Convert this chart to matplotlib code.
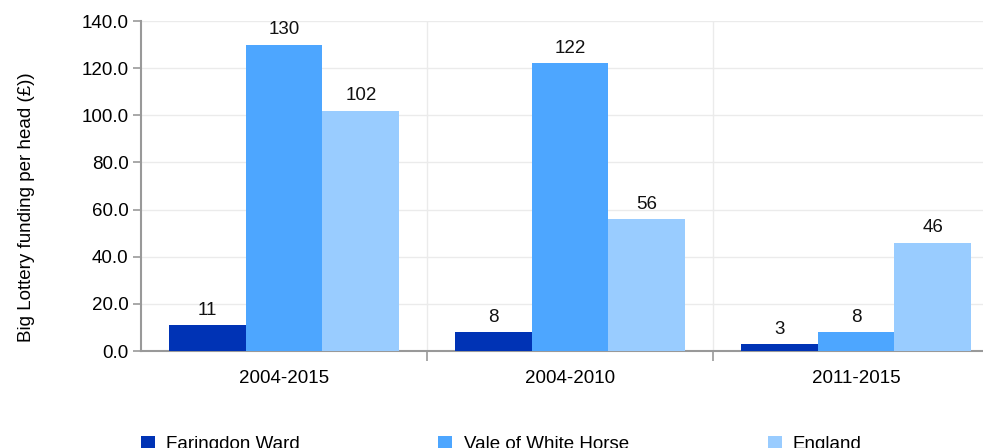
import matplotlib.pyplot as plt
import numpy as np

plt.rcParams['font.family'] = ['Liberation Sans', 'DejaVu Sans']

periods = ['2004-2015', '2004-2010', '2011-2015']
series = ['Faringdon Ward', 'Vale of White Horse', 'England']
faringdon = [11, 8, 3]
vale = [130, 122, 8]
england = [102, 56, 46]
colours = ['#0033B5', '#4DA6FF', '#99CCFF']

fs = 13.5

fig = plt.figure(figsize=(9.83, 4.48), dpi=100)
# plot area runs past the right edge of the figure
ax = fig.add_axes([141/983, 1 - 351/448, (999 - 141)/983, 330/448])

x = np.arange(len(periods))
w = 0.269
for i, (vals, c, name) in enumerate(zip([faringdon, vale, england], colours, series)):
    pos = x + (i - 1) * w
    ax.bar(pos, vals, width=w, color=c, label=name, zorder=3)
    for p, v in zip(pos, vals):
        ax.text(p, v + 2.6, f'{v:d}', ha='center', va='bottom', fontsize=fs, color='#111111')

ax.set_xlim(-0.5, 2.5)
ax.set_ylim(0, 140)
ax.set_yticks(np.arange(0, 141, 20))
ax.set_yticklabels([f'{t:.1f}' for t in np.arange(0, 141, 20)], fontsize=fs)
ax.set_xticks(x)
ax.set_xticklabels(periods, fontsize=fs)
ax.set_xticks([0.5, 1.5], minor=True)
ax.tick_params(axis='x', which='major', length=0, pad=14)
ax.tick_params(axis='x', which='minor', length=7, color='#999999', width=1.2)
ax.tick_params(axis='y', length=6, color='#999999', width=1.2, pad=3)

ax.grid(axis='y', color='#ebebeb', lw=1, zorder=0)
ax.grid(axis='x', which='minor', color='#ebebeb', lw=1, zorder=0)
for s in ['top', 'right']:
    ax.spines[s].set_visible(False)
for s in ['left', 'bottom']:
    ax.spines[s].set_color('#999999')
    ax.spines[s].set_linewidth(1.5)

ax.set_ylabel('Big Lottery funding per head (£))', fontsize=13.5)
ax.yaxis.set_label_coords(-0.1235, 0.436)

fig.legend(loc='upper left', bbox_to_anchor=(133/983, 1 - 428/448), ncol=3,
           frameon=False, fontsize=fs, handlelength=0.75, handleheight=0.75,
           handletextpad=0.6, columnspacing=7.4, borderaxespad=0)

fig.savefig('out.png', dpi=100)
